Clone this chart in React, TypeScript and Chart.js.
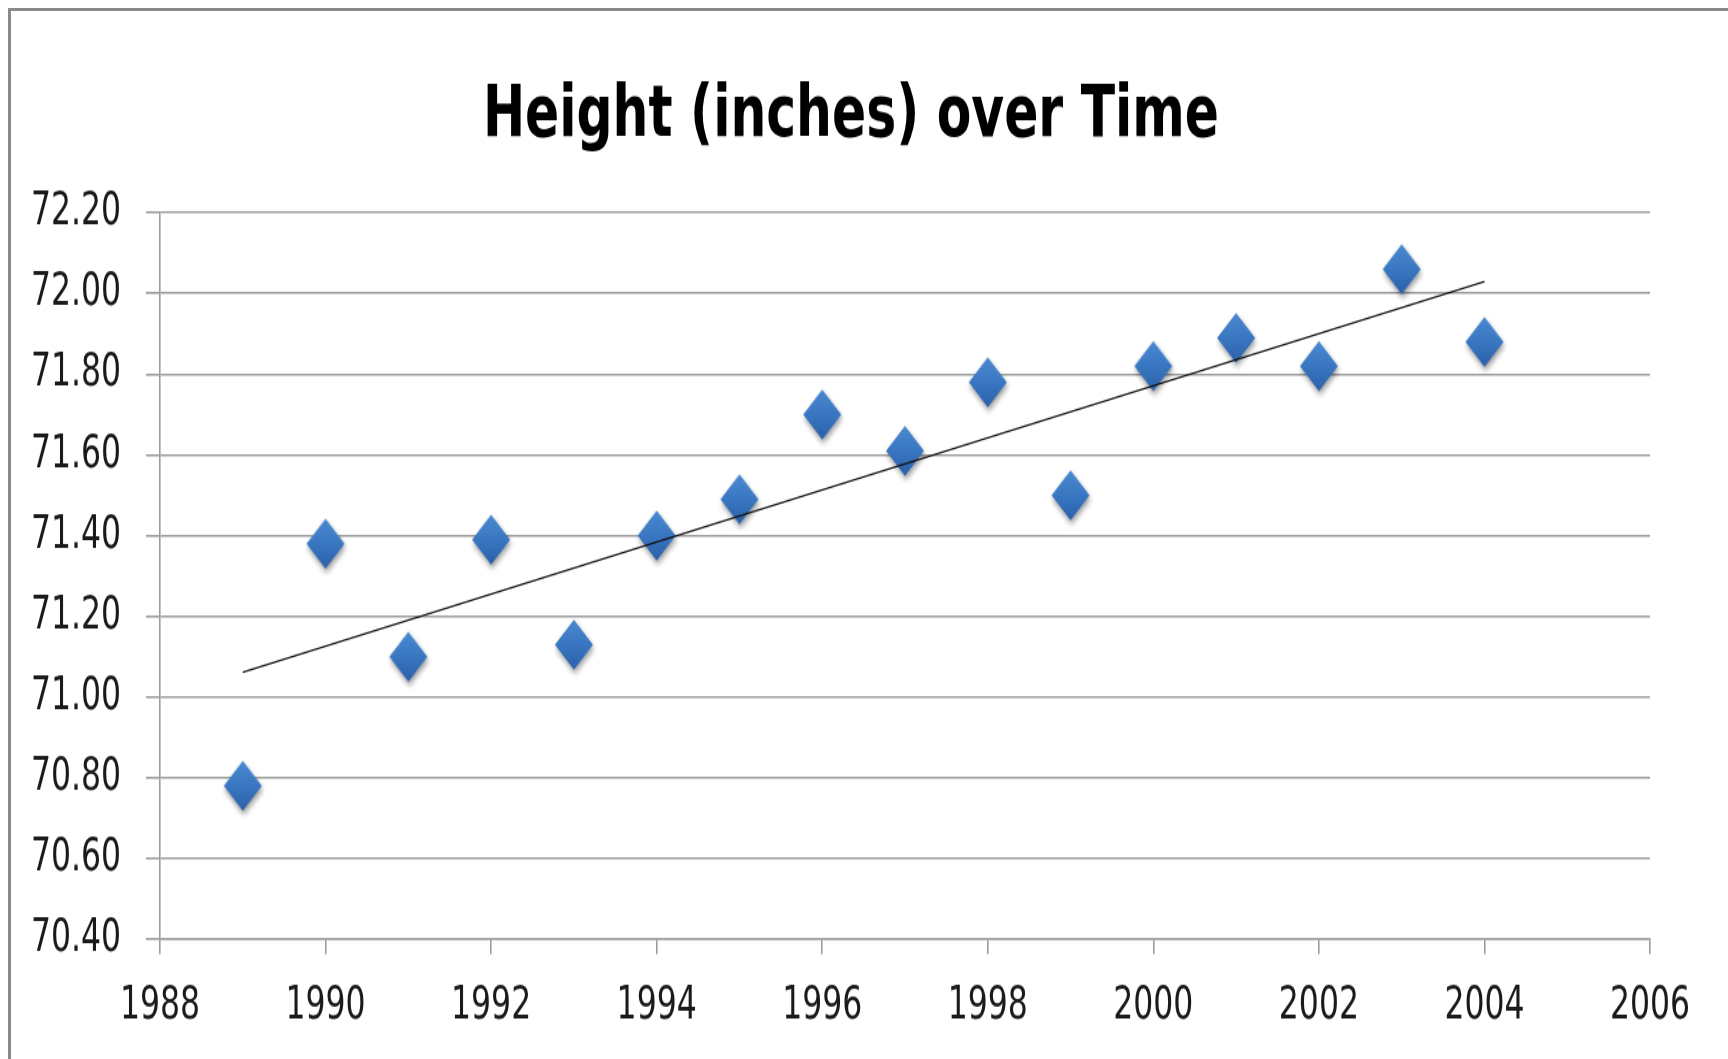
import React, { useEffect, useRef } from "react";
import { Chart, registerables } from "chart.js";

Chart.register(...registerables);

const TITLE = "Height (inches) over Time";
const years = [1989, 1990, 1991, 1992, 1993, 1994, 1995, 1996, 1997, 1998, 1999, 2000, 2001, 2002, 2003, 2004];
const heights = [70.78, 71.38, 71.10, 71.39, 71.13, 71.40, 71.49, 71.70, 71.61, 71.78, 71.50, 71.82, 71.89, 71.82, 72.06, 71.88];
const Y_MIN = 70.4;
const Y_MAX = 72.2;
const Y_STEP = 0.2;
const X_MIN = 1988;
const X_MAX = 2006;
const X_STEP = 2;

const FONT = "'DejaVu Sans Condensed', 'Liberation Sans Narrow', sans-serif";
const GRID = "#9c9c9c";
// The reference picture is a vertically stretched chart; render then stretch.
const STRETCH = 1.3;

function linearFit(xs: number[], ys: number[]) {
  const n = xs.length;
  const mx = xs.reduce((a, b) => a + b, 0) / n;
  const my = ys.reduce((a, b) => a + b, 0) / n;
  let sxy = 0, sxx = 0;
  for (let i = 0; i < n; i++) {
    sxy += (xs[i] - mx) * (ys[i] - my);
    sxx += (xs[i] - mx) * (xs[i] - mx);
  }
  const slope = sxy / sxx;
  return (x: number) => my + slope * (x - mx);
}

function makeDiamond() {
  const w = 38, h = 38.5, m = 12;
  const c = document.createElement("canvas");
  c.width = w + 2 * m;
  c.height = Math.round(h + 2 * m);
  const ctx = c.getContext("2d")!;
  const cx = c.width / 2, cy = c.height / 2;
  const g = ctx.createLinearGradient(0, cy - h / 2, 0, cy + h / 2);
  g.addColorStop(0, "#4a8ad2");
  g.addColorStop(0.5, "#3a77c2");
  g.addColorStop(1, "#2b60a8");
  ctx.shadowColor = "rgba(0,0,0,0.4)";
  ctx.shadowBlur = 5;
  ctx.shadowOffsetX = 1;
  ctx.shadowOffsetY = 3;
  ctx.beginPath();
  ctx.moveTo(cx, cy - h / 2);
  ctx.lineTo(cx + w / 2, cy);
  ctx.lineTo(cx, cy + h / 2);
  ctx.lineTo(cx - w / 2, cy);
  ctx.closePath();
  ctx.fillStyle = g;
  ctx.fill();
  return c;
}

export default function App() {
  const ref = useRef<HTMLCanvasElement | null>(null);

  useEffect(() => {
    document.documentElement.style.overflow = "hidden";
    document.body.style.overflow = "hidden";
    const fit = linearFit(years, heights);
    const x0 = years[0];
    const x1 = years[years.length - 1];
    const diamond = makeDiamond();
    const chart = new Chart(ref.current!, {
      type: "scatter",
      data: {
        datasets: [
          {
            label: "Trend",
            type: "line",
            data: [
              { x: x0, y: fit(x0) },
              { x: x1, y: fit(x1) },
            ],
            borderColor: "#111",
            borderWidth: 1.4,
            pointRadius: 0,
            fill: false,
            order: 0,
          } as any,
          {
            label: "Height",
            data: years.map((y, i) => ({ x: y, y: heights[i] })),
            pointStyle: diamond as any,
            pointRadius: 20,
            showLine: false,
            order: 1,
          },
        ],
      },
      options: {
        animation: false,
        responsive: true,
        maintainAspectRatio: false,
        layout: { padding: { right: 40 } },
        plugins: {
          legend: { display: false },
          tooltip: { enabled: false },
          title: {
            display: true,
            text: TITLE,
            color: "#000",
            font: { family: FONT, size: 56, weight: "bold" },
            padding: { top: 48, bottom: 40 },
          },
        },
        scales: {
          x: {
            type: "linear",
            min: X_MIN,
            max: X_MAX,
            ticks: {
              stepSize: X_STEP,
              color: "#1a1a1a",
              font: { family: FONT, size: 35 },
              padding: 19,
              maxRotation: 0,
              callback: (v: any) => String(v),
            },
            grid: {
              drawOnChartArea: false,
              drawTicks: true,
              tickLength: 11.5,
              color: GRID,
              lineWidth: 1.6,
            },
            border: { display: true, color: GRID, width: 1.6 },
            afterFit: (s: any) => {
              s.height = 102;
              s.paddingRight = 81;
            },
          },
          y: {
            type: "linear",
            min: Y_MIN,
            max: Y_MAX,
            ticks: {
              stepSize: Y_STEP,
              color: "#1a1a1a",
              font: { family: FONT, size: 35 },
              padding: 25,
              callback: (v: any) => Number(v).toFixed(2),
            },
            grid: {
              drawTicks: true,
              tickLength: 14,
              color: GRID,
              lineWidth: 1.6,
            },
            border: { display: true, color: GRID, width: 1.6 },
            afterFit: (s: any) => {
              s.width = 149;
            },
          },
        },
      },
    });
    return () => chart.destroy();
  }, []);

  return (
    <div
      style={{
        position: "fixed",
        left: 8,
        top: 8,
        width: 1760,
        height: 1100,
        border: "3px solid #8a8a8a",
        background: "#fff",
        overflow: "hidden",
      }}
    >
      <div
        style={{
          position: "relative",
          width: 1720,
          height: 816,
          transform: `scaleY(${STRETCH})`,
          transformOrigin: "top left",
        }}
      >
        <canvas ref={ref} />
      </div>
    </div>
  );
}
